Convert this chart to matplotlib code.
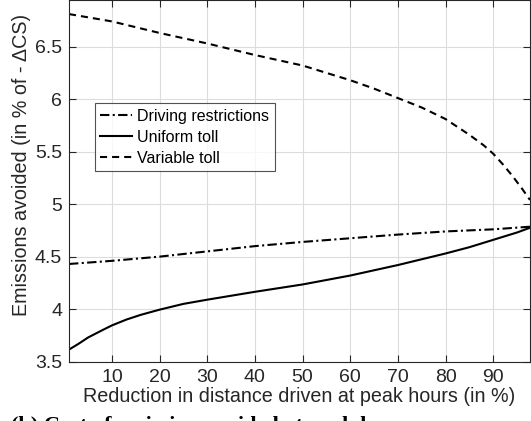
import numpy as np
import matplotlib
matplotlib.use("Agg")
import matplotlib.pyplot as plt

plt.rcParams['font.family'] = ['Liberation Sans', 'DejaVu Sans']

# values
x_drive = [1, 10, 20, 30, 40, 50, 60, 70, 80, 90, 97.7]
driving = [4.43, 4.46, 4.50, 4.55, 4.60, 4.64, 4.675, 4.71, 4.74, 4.76, 4.785]

x_uni = [1, 3, 5, 8, 10, 13, 16, 20, 25, 30, 40, 50, 60, 70, 80, 85, 90, 95, 97.7]
uniform = [3.615, 3.67, 3.73, 3.80, 3.845, 3.90, 3.945, 3.995, 4.05, 4.09, 4.165, 4.235,
           4.32, 4.42, 4.53, 4.59, 4.66, 4.73, 4.775]

x_var = [1, 10, 20, 30, 40, 50, 60, 65, 70, 75, 80, 85, 88, 90, 92, 94, 96, 97.7]
variable = [6.81, 6.74, 6.63, 6.53, 6.42, 6.32, 6.18, 6.10, 6.01, 5.92, 5.81, 5.66, 5.56,
            5.48, 5.38, 5.27, 5.15, 5.04]

xticks = [10, 20, 30, 40, 50, 60, 70, 80, 90]
yticks = [3.5, 4, 4.5, 5, 5.5, 6, 6.5]
ytick_labels = ['3.5', '4', '4.5', '5', '5.5', '6', '6.5']

fig = plt.figure(figsize=(5.31, 4.21), dpi=100)
ax = fig.add_axes([0.130, 0.141, 0.868, 0.858])

ax.plot(x_drive, driving, color='black', lw=1.5, linestyle=(0, (4.5, 1.6, 1.0, 1.6)), label='Driving restrictions')
ax.plot(x_uni, uniform, color='black', lw=1.5, linestyle='-', label='Uniform toll')
ax.plot(x_var, variable, color='black', lw=1.5, linestyle=(0, (3.4, 2.4)), label='Variable toll')

ax.set_xlim(1, 97.7)
ax.set_ylim(3.5, 6.94)
ax.set_xticks(xticks)
ax.set_yticks(yticks)
ax.set_yticklabels(ytick_labels)

grey = '#262626'
ax.grid(True, color='#dcdcdc', lw=0.8)
ax.set_axisbelow(True)
for s in ax.spines.values():
    s.set_color(grey)
    s.set_linewidth(0.8)
ax.tick_params(direction='in', top=True, right=True, length=5, width=0.8,
               colors=grey, labelsize=14, labelcolor=grey, pad=5)

ax.set_xlabel('Reduction in distance driven at peak hours (in %)', fontsize=14.2, color=grey, labelpad=1)
ax.set_ylabel('Emissions avoided (in % of - ΔCS)', fontsize=14.2, color=grey)
ax.yaxis.set_label_coords(-0.082, 0.545)

leg = ax.legend(loc='upper left', bbox_to_anchor=(0.056, 0.716), fontsize=11.5,
                frameon=True, fancybox=False, handlelength=2.0, handletextpad=0.3,
                labelspacing=0.38, borderpad=0.35, borderaxespad=0)
leg.get_frame().set_edgecolor(grey)
leg.get_frame().set_linewidth(0.8)

# caption below the figure, mostly cut off by the image edge
fig.text(0.02, 0.012, '(b) Cost of emission avoided at peak hours', va='top', ha='left',
         fontsize=16, fontweight='bold', family=['Liberation Serif', 'DejaVu Serif'])

fig.savefig('out.png', dpi=100)
